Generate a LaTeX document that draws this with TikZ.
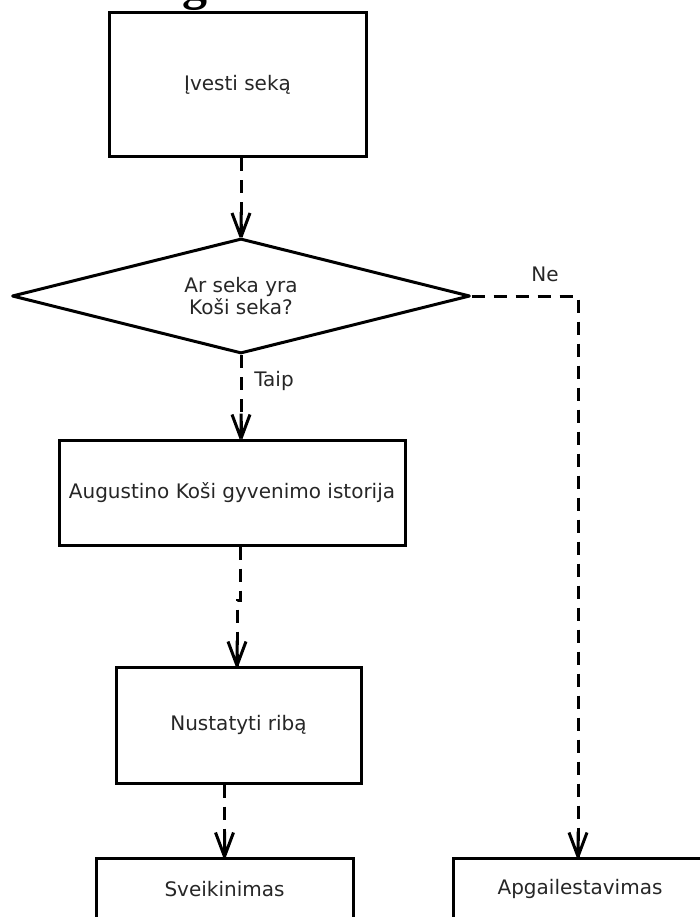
\documentclass[tikz,border=0pt]{standalone}
\usepackage{fontspec}
\setmainfont{DejaVu Sans}
\newfontfamily\headfont{Liberation Serif}
\usetikzlibrary{shapes.geometric}
\newcommand\vtip[1]{\draw[tipv] #1 -- +(0,-25) #1 -- +(-9,-24) #1 -- +(9,-24);}
\begin{document}
\begin{tikzpicture}[x=1pt,y=-1pt,
  box/.style={draw, line width=3pt, inner sep=0pt, font=\fontsize{20}{22}\selectfont, text=black!85, align=center},
  lbl/.style={font=\fontsize{20}{22}\selectfont, text=black!85, inner sep=0pt},
  conn/.style={line width=3pt, dash pattern=on 13pt off 9pt},
  tipv/.style={line width=3pt, line join=miter}]
\useasboundingbox (0,0) rectangle (700,917);
\node[font=\headfont\bfseries\fontsize{50}{50}\selectfont, anchor=base, inner sep=0pt] (hg) at (195,0) {g};
\node[box, minimum width=257pt, minimum height=144pt] (b1) at (237.5,85) {Įvesti seką};
\node[box, diamond, aspect=3.98, line join=round, minimum width=458pt, minimum height=115pt] (d) at (241,296) {Ar seka yra\\ Koši seka?};
\node[box, minimum width=346pt, minimum height=105pt] (b2) at (232,492.5) {Augustino Koši gyvenimo istorija};
\node[box, minimum width=245pt, minimum height=116pt] (b3) at (238.5,725) {Nustatyti ribą};
\node[box, minimum width=257pt, minimum height=62pt] (s) at (224.5,889) {Sveikinimas};
\node[box, minimum width=254pt, minimum height=62pt] (a) at (580,889) {Apgailestavimas};
% connectors
\draw[conn] (b1.south -| d.north) -- (d.north);
\vtip{(d.north)}
\draw[conn] (d.south) -- (b2.north -| d.south);
\vtip{(b2.north -| d.south)}
\node[lbl] (taip) at (274,381) {Taip};
\coordinate (j1) at (240,600);
\coordinate (j2) at (237,600);
\draw[conn] (b2.south -| j1) -- (j1) -- (j2) -- (b3.north -| j2);
\vtip{(b3.north -| j2)}
\draw[conn] (b3.south -| s.north) -- (s.north);
\vtip{(s.north)}
\coordinate (ne) at (578,296);
\draw[conn] (d.east) -- (ne) -- (a.north -| ne);
\vtip{(a.north -| ne)}
\node[lbl] (nel) at (545,274) {Ne};
\end{tikzpicture}
\end{document}
